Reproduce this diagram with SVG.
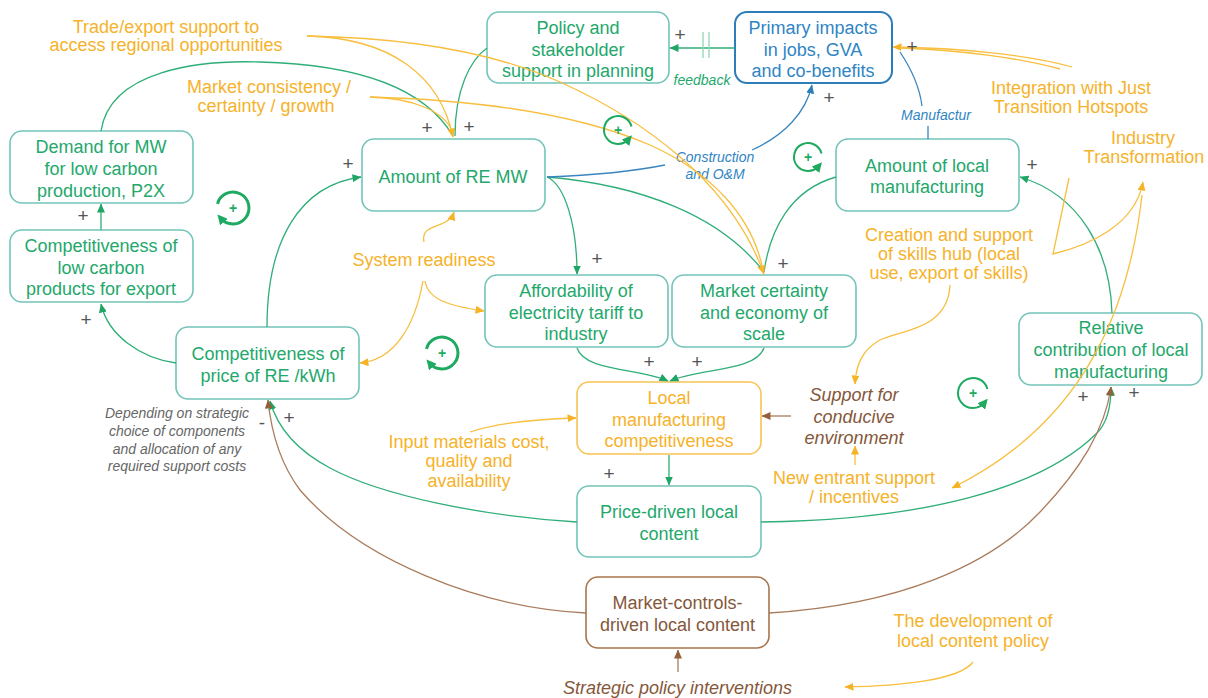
<svg xmlns="http://www.w3.org/2000/svg" width="1208" height="698" viewBox="0 0 1208 698">
  <defs>
    <style>
      .box{fill:#fff;stroke:#72C4B9;stroke-width:1.6}
      .box-b{fill:#fff;stroke:#2C7DBA;stroke-width:2}
      .box-y{fill:#fff;stroke:#F8C454;stroke-width:1.6}
      .box-br{fill:#fff;stroke:#A8754C;stroke-width:1.6}
      text{font-family:"Liberation Sans",Arial,sans-serif}
      .t{font-size:18px;text-anchor:middle}
      .tg{fill:#23A86C}
      .ty{fill:#F6B22A}
      .tb{fill:#2F85C4}
      .tbr{fill:#85573A}
      .tgr{fill:#666;font-size:14px;text-anchor:middle;font-style:italic}
      .it{font-style:italic}
      .sm{font-size:14px}
      .pm{font-size:19px;fill:#555;text-anchor:middle}
      .cg{fill:none;stroke:#2FAE78;stroke-width:1.3}
      .cy{fill:none;stroke:#F8BE3E;stroke-width:1.3}
      .cb{fill:none;stroke:#3A86BF;stroke-width:1.3}
      .cbr{fill:none;stroke:#A97C5C;stroke-width:1.3}
      .loop{fill:none;stroke:#1EAA60}
      .lp{font-size:14px;font-weight:bold;fill:#1EAA60;text-anchor:middle}
    </style>
    <marker id="ag" viewBox="0 0 9 8" refX="8.5" refY="4" markerWidth="9" markerHeight="8" markerUnits="userSpaceOnUse" orient="auto"><path d="M0,0 L9,4 L0,8 z" fill="#1FA565"/></marker>
    <marker id="ay" viewBox="0 0 9 8" refX="8.5" refY="4" markerWidth="9" markerHeight="8" markerUnits="userSpaceOnUse" orient="auto"><path d="M0,0 L9,4 L0,8 z" fill="#F5B325"/></marker>
    <marker id="ab" viewBox="0 0 9 8" refX="8.5" refY="4" markerWidth="9" markerHeight="8" markerUnits="userSpaceOnUse" orient="auto"><path d="M0,0 L9,4 L0,8 z" fill="#2C7DBA"/></marker>
    <marker id="abr" viewBox="0 0 9 8" refX="8.5" refY="4" markerWidth="9" markerHeight="8" markerUnits="userSpaceOnUse" orient="auto"><path d="M0,0 L9,4 L0,8 z" fill="#94603C"/></marker>
    <marker id="al" viewBox="0 0 10 10" refX="5" refY="5" markerWidth="10" markerHeight="10" markerUnits="userSpaceOnUse" orient="auto"><path d="M0,0 L10,5 L0,10 z" fill="#1EAA60"/></marker>
  </defs>

  <!-- nodes -->
  <g id="policy">
    <rect class="box" x="487" y="12" width="182" height="71" rx="12"/>
    <text class="t tg"><tspan x="578" y="34">Policy and</tspan><tspan x="578" y="55.5">stakeholder</tspan><tspan x="578" y="77">support in planning</tspan></text>
  </g>
  <g id="primary">
    <rect class="box-b" x="735" y="12" width="157" height="71" rx="12"/>
    <text class="t tb"><tspan x="813" y="34">Primary impacts</tspan><tspan x="813" y="55.5">in jobs, GVA</tspan><tspan x="813" y="77">and co-benefits</tspan></text>
  </g>
  <g id="demand">
    <rect class="box" x="10" y="131" width="183" height="72" rx="12"/>
    <text class="t tg"><tspan x="101" y="153">Demand for MW</tspan><tspan x="101" y="175">for low carbon</tspan><tspan x="101" y="197">production, P2X</tspan></text>
  </g>
  <g id="competitiveness-export">
    <rect class="box" x="10" y="230" width="183" height="72" rx="12"/>
    <text class="t tg"><tspan x="101" y="252">Competitiveness of</tspan><tspan x="101" y="274">low carbon</tspan><tspan x="101" y="295">products for export</tspan></text>
  </g>
  <g id="competitiveness-price">
    <rect class="box" x="176" y="327" width="183" height="72" rx="12"/>
    <text class="t tg"><tspan x="268" y="360">Competitiveness of</tspan><tspan x="268" y="382">price of RE /kWh</tspan></text>
  </g>
  <g id="amount-re">
    <rect class="box" x="362" y="139" width="183" height="72" rx="12"/>
    <text class="t tg" x="453" y="183">Amount of RE MW</text>
  </g>
  <g id="affordability">
    <rect class="box" x="485" y="275" width="183" height="72" rx="12"/>
    <text class="t tg"><tspan x="576" y="297">Affordability of</tspan><tspan x="576" y="319">electricity tariff to</tspan><tspan x="576" y="340">industry</tspan></text>
  </g>
  <g id="market-certainty">
    <rect class="box" x="672" y="275" width="184" height="72" rx="12"/>
    <text class="t tg"><tspan x="764" y="297">Market certainty</tspan><tspan x="764" y="319">and economy of</tspan><tspan x="764" y="340">scale</tspan></text>
  </g>
  <g id="amount-local">
    <rect class="box" x="836" y="139" width="183" height="72" rx="12"/>
    <text class="t tg"><tspan x="927" y="172">Amount of local</tspan><tspan x="927" y="193">manufacturing</tspan></text>
  </g>
  <g id="relative-contribution">
    <rect class="box" x="1019" y="313" width="183" height="72" rx="12"/>
    <text class="t tg"><tspan x="1111" y="334">Relative</tspan><tspan x="1111" y="356">contribution of local</tspan><tspan x="1111" y="378">manufacturing</tspan></text>
  </g>
  <g id="local-competitiveness">
    <rect class="box-y" x="577" y="382" width="184" height="72" rx="12"/>
    <text class="t ty"><tspan x="669" y="404">Local</tspan><tspan x="669" y="426">manufacturing</tspan><tspan x="669" y="447">competitiveness</tspan></text>
  </g>
  <g id="price-driven">
    <rect class="box" x="577" y="486" width="184" height="71" rx="12"/>
    <text class="t tg"><tspan x="669" y="518">Price-driven local</tspan><tspan x="669" y="540">content</tspan></text>
  </g>
  <g id="market-controls">
    <rect class="box-br" x="586" y="577" width="183" height="71" rx="12"/>
    <text class="t tbr"><tspan x="677.5" y="609">Market-controls-</tspan><tspan x="677.5" y="631">driven local content</tspan></text>
  </g>

  <!-- influence labels -->
  <g id="labels">
    <text class="t ty"><tspan x="166" y="33">Trade/export support to</tspan><tspan x="166" y="51">access regional opportunities</tspan></text>
    <text class="t ty"><tspan x="269" y="93">Market consistency /</tspan><tspan x="266" y="112">certainty / growth</tspan></text>
    <text class="t ty" x="424" y="266">System readiness</text>
    <text class="t ty"><tspan x="1071" y="94">Integration with Just</tspan><tspan x="1071" y="113">Transition Hotspots</tspan></text>
    <text class="t ty"><tspan x="1143" y="144">Industry</tspan><tspan x="1144" y="163">Transformation</tspan></text>
    <text class="t ty"><tspan x="949" y="241">Creation and support</tspan><tspan x="949" y="260">of skills hub (local</tspan><tspan x="949" y="279">use, export of skills)</tspan></text>
    <text class="t ty"><tspan x="469" y="448">Input materials cost,</tspan><tspan x="469" y="467">quality and</tspan><tspan x="469" y="487">availability</tspan></text>
    <text class="t ty"><tspan x="854" y="484">New entrant support</tspan><tspan x="854" y="503">/ incentives</tspan></text>
    <text class="t ty"><tspan x="973" y="627">The development of</tspan><tspan x="973" y="647">local content policy</tspan></text>
    <text class="t tbr it"><tspan x="854" y="401">Support for</tspan><tspan x="854" y="423">conducive</tspan><tspan x="854" y="444">environment</tspan></text>
    <text class="t tbr it" x="677.5" y="694">Strategic policy interventions</text>
    <text class="tgr"><tspan x="177" y="418">Depending on strategic</tspan><tspan x="177" y="436">choice of components</tspan><tspan x="177" y="454">and allocation of any</tspan><tspan x="177" y="471">required support costs</tspan></text>
    <text class="t tb it sm"><tspan x="715" y="162">Construction</tspan><tspan x="715" y="179">and O&amp;M</tspan></text>
    <text class="tb it sm" x="901" y="120">Manufactur</text>
    <text class="tg it sm" x="702" y="85" text-anchor="middle">feedback</text>
  </g>

  <!-- connectors -->
  <g id="connectors">
    <!-- green causal links -->
    <path class="cg" d="M101,131 C110,70 200,60 260,62 C340,64 420,80 453,136"/>
    <path class="cg" d="M487,48 C470,60 455,90 455,136"/>
    <path class="cg" d="M101,230 L101,204" marker-end="url(#ag)"/>
    <path class="cg" d="M176,363 C140,358 108,335 101,304" marker-end="url(#ag)"/>
    <path class="cg" d="M267,327 C267,240 300,185 361,177" marker-end="url(#ag)"/>
    <path class="cg" d="M547,177 C565,185 577,225 577,274" marker-end="url(#ag)"/>
    <path class="cg" d="M547,177 C640,185 720,215 764,272"/>
    <path class="cg" d="M836,177 C790,190 770,230 764,272"/>
    <path class="cg" d="M735,48 L670,48" marker-end="url(#ag)"/>
    <path d="M703,32 L703,58 M709,32 L709,58" stroke="#93D6B4" stroke-width="1.3" fill="none"/>
    <path class="cg" d="M577,348 C585,372 640,368 668,381" marker-end="url(#ag)"/>
    <path class="cg" d="M764,348 C755,372 700,368 670,381" marker-end="url(#ag)"/>
    <path class="cg" d="M669,455 L669,485" marker-end="url(#ag)"/>
    <path class="cg" d="M577,522 C480,516 380,495 330,468 C300,452 278,430 270,401" marker-end="url(#ag)"/>
    <path class="cg" d="M761,522 C920,520 1040,490 1097,433 C1108,422 1111,405 1111,387" marker-end="url(#ag)"/>
    <path class="cg" d="M1112,313 C1110,250 1080,195 1020,177" marker-end="url(#ag)"/>

    <!-- blue impact links -->
    <path class="cb" d="M547,177 C600,175 640,170 665,165"/>
    <path class="cb" d="M752,150 C785,135 806,112 812,85" marker-end="url(#ab)"/>
    <path class="cb" d="M928,139 L928,126"/>
    <path class="cb" d="M922,106 C920,90 912,70 900,52"/>

    <!-- brown links -->
    <path class="cbr" d="M769,613 C900,605 990,565 1040,512 C1080,470 1105,430 1111,387" marker-end="url(#abr)"/>
    <path class="cbr" d="M586,613 C480,608 360,560 300,490 C285,470 272,440 268,400" marker-end="url(#abr)"/>
    <path class="cbr" d="M791,416 L762,416" marker-end="url(#abr)"/>
    <path class="cbr" d="M678,672 L678,650" marker-end="url(#abr)"/>

    <!-- yellow enabler links -->
    <path class="cy" d="M307,36 C390,38 440,75 453,137" marker-end="url(#ay)"/>
    <path class="cy" d="M370,97 C410,98 445,110 453,133"/>
    <path class="cy" d="M307,36 C420,38 500,55 560,82 C640,118 730,180 764,274" marker-end="url(#ay)"/>
    <path class="cy" d="M370,97 C480,100 580,115 650,145 C710,172 752,215 763,270"/>
    <path class="cy" d="M424,242 C420,222 448,230 454,212" marker-end="url(#ay)"/>
    <path class="cy" d="M425,281 C428,300 450,306 484,311" marker-end="url(#ay)"/>
    <path class="cy" d="M423,281 C415,325 395,360 360,363" marker-end="url(#ay)"/>
    <path class="cy" d="M470,432 C500,422 540,419 576,418" marker-end="url(#ay)"/>
    <path class="cy" d="M950,285 C948,330 900,330 880,340 C862,350 856,365 855,384" marker-end="url(#ay)"/>
    <path class="cy" d="M855,465 L855,446" marker-end="url(#ay)"/>
    <path class="cy" d="M1072,67 C1030,55 960,48 893,47" marker-end="url(#ay)"/>
    <path class="cy" d="M1060,69 C1020,58 960,50 900,48"/>
    <path class="cy" d="M1069,178 L1053,254 C1090,245 1135,225 1143,182" marker-end="url(#ay)"/>
    <path class="cy" d="M1142,195 C1130,300 1090,420 952,488" marker-end="url(#ay)"/>
    <path class="cy" d="M973,662 C960,680 900,686 845,687" marker-end="url(#ay)"/>
  </g>

  <!-- polarity signs -->
  <g id="polarity">
    <text class="pm" x="680" y="41">+</text>
    <text class="pm" x="829" y="104">+</text>
    <text class="pm" x="912" y="53">+</text>
    <text class="pm" x="427" y="134">+</text>
    <text class="pm" x="469" y="133">+</text>
    <text class="pm" x="348" y="170">+</text>
    <text class="pm" x="83" y="222">+</text>
    <text class="pm" x="86" y="326">+</text>
    <text class="pm" x="597" y="265">+</text>
    <text class="pm" x="783" y="270">+</text>
    <text class="pm" x="649" y="368">+</text>
    <text class="pm" x="697" y="368">+</text>
    <text class="pm" x="609" y="480">+</text>
    <text class="pm" x="1032" y="171">+</text>
    <text class="pm" x="1083" y="403">+</text>
    <text class="pm" x="1134" y="399">+</text>
    <text class="pm" x="289" y="424">+</text>
    <text class="pm" x="262" y="429">-</text>
  </g>

  <!-- reinforcing loop markers -->
  <g id="loop-1" transform="translate(233,208)">
    <path class="loop" stroke-width="3" d="M-15.5,-4.1 A16,16 0 1 1 -12.3,10.3" marker-end="url(#al)"/>
    <text class="lp" x="0" y="5">+</text>
  </g>
  <g id="loop-2" transform="translate(442,353)">
    <path class="loop" stroke-width="3" d="M-15.5,-4.1 A16,16 0 1 1 -12.3,10.3" marker-end="url(#al)"/>
    <text class="lp" x="0" y="5">+</text>
  </g>
  <g id="loop-3" transform="translate(618,130)">
    <path class="loop" stroke-width="2" d="M13.5,-3.6 A14,14 0 1 0 10.7,9" marker-end="url(#al)"/>
    <text class="lp" x="0" y="5">+</text>
  </g>
  <g id="loop-4" transform="translate(808,157)">
    <path class="loop" stroke-width="2" d="M13.5,-3.6 A14,14 0 1 0 10.7,9" marker-end="url(#al)"/>
    <text class="lp" x="0" y="5">+</text>
  </g>
  <g id="loop-5" transform="translate(973,393)">
    <path class="loop" stroke-width="2" d="M14.5,-3.9 A15,15 0 1 0 11.5,9.6" marker-end="url(#al)"/>
    <text class="lp" x="0" y="5">+</text>
  </g>
</svg>
